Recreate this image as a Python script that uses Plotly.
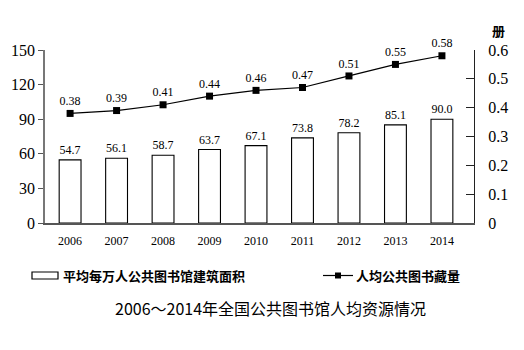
import plotly.graph_objects as go

years = [2006, 2007, 2008, 2009, 2010, 2011, 2012, 2013, 2014]
area = [54.7, 56.1, 58.7, 63.7, 67.1, 73.8, 78.2, 85.1, 90.0]
books = [0.38, 0.39, 0.41, 0.44, 0.46, 0.47, 0.51, 0.55, 0.58]
left_ticks = [0, 30, 60, 90, 120, 150]
right_ticks = [0, 0.1, 0.2, 0.3, 0.4, 0.5, 0.6]
bar_name = "平均每万人公共图书馆建筑面积"
line_name = "人均公共图书藏量"
title = "2006～2014年全国公共图书馆人均资源情况"
unit = "册"

serif = "Liberation Serif, Times New Roman, serif"
cjk = "Noto Sans CJK SC, sans-serif"

fig = go.Figure()
fig.add_trace(go.Bar(
    x=years, y=area, width=0.47, name=bar_name,
    marker=dict(color="white", line=dict(color="black", width=1.1)),
    text=[f"{v:.1f}" for v in area], textposition="outside",
    textfont=dict(family=serif, size=12, color="black"), cliponaxis=False,
))
fig.add_trace(go.Scatter(
    x=years, y=books, yaxis="y2", name=line_name, mode="lines+markers+text",
    line=dict(color="black", width=1.2),
    marker=dict(symbol="square", size=7, color="black"),
    text=[f"{v:.2f}" for v in books], textposition="top center",
    textfont=dict(family=serif, size=12, color="black"), cliponaxis=False,
))

fig.update_layout(
    width=524, height=350, showlegend=False,
    margin=dict(l=45, r=50, t=50, b=127),
    plot_bgcolor="white", paper_bgcolor="white",
    font=dict(family=serif, size=14, color="black"),
    xaxis=dict(range=[2005.46, 2014.69], tickvals=years, ticktext=[str(y) for y in years],
               showline=True, linecolor="#555", linewidth=1.5, ticks="",
               showgrid=False, zeroline=False, tickfont=dict(size=12), ticklabelstandoff=6),
    yaxis=dict(range=[0, 150], tickvals=left_ticks, showline=True, linecolor="#777",
               linewidth=1.5, ticks="outside", ticklen=5, tickcolor="#555",
               showgrid=False, zeroline=False, tickfont=dict(size=16)),
    yaxis2=dict(range=[0, 0.6], tickvals=right_ticks, ticktext=["0", "0.1", "0.2", "0.3", "0.4", "0.5", "0.6"],
                overlaying="y", side="right", showline=True, linecolor="#222", linewidth=1.2,
                ticks="inside", ticklen=8, tickcolor="#222", showgrid=False, zeroline=False,
                tickfont=dict(size=16), ticklabelstandoff=10),
)

def px_x(x):
    return (x - 45) / 429

def px_y(y):
    return (223 - y) / 173

def note(x, y, text, font, xanchor="center"):
    fig.add_annotation(xref="paper", yref="paper", x=px_x(x), y=px_y(y), text=text,
                       xanchor=xanchor, yanchor="middle", showarrow=False, font=font)

# unit label
note(499, 30, unit, dict(family=cjk, size=13, weight="bold"))

# manual legend
fig.add_shape(type="rect", xref="paper", yref="paper",
              x0=px_x(32), x1=px_x(58), y0=px_y(279), y1=px_y(272),
              line=dict(color="black", width=1.2), fillcolor="white")
note(61, 275.5, bar_name, dict(family=cjk, size=13, weight="bold"), "left")
fig.add_shape(type="line", xref="paper", yref="paper",
              x0=px_x(323), x1=px_x(353), y0=px_y(275.5), y1=px_y(275.5),
              line=dict(color="black", width=1.2))
fig.add_shape(type="rect", xref="paper", yref="paper",
              x0=px_x(335), x1=px_x(341), y0=px_y(278.5), y1=px_y(272.5),
              line=dict(color="black", width=0), fillcolor="black")
note(354, 275.5, line_name, dict(family=cjk, size=13, weight="bold"), "left")
note(270, 308, title, dict(family=cjk, size=16, color="black"))

fig.write_html("out.html")
